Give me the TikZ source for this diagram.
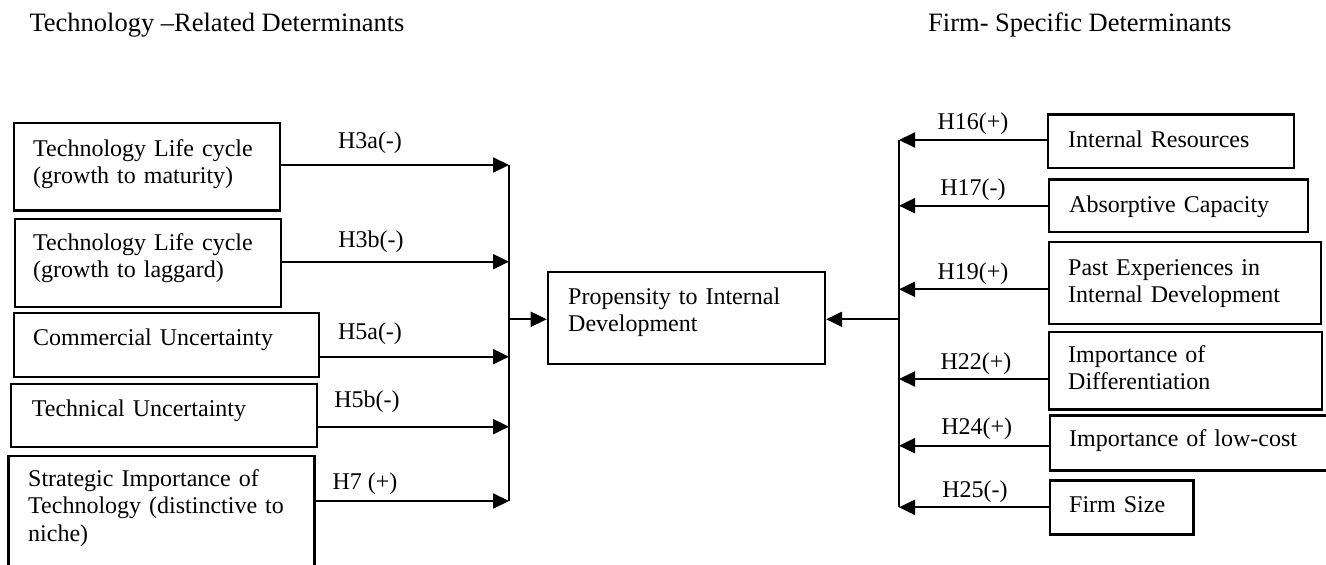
\documentclass[tikz,border=0pt]{standalone}
\usepackage{fontspec}
\setmainfont{Liberation Serif}
\usetikzlibrary{arrows.meta}
\begin{document}
\begin{tikzpicture}[x=1pt,y=-1pt,
  boxnode/.style={draw, line width=2.2pt, inner sep=0pt, anchor=north west},
  txt/.style={anchor=base west, inner sep=0pt, align=left, text width=#1,
    font=\fontsize{24}{27.5}\selectfont},
  lbl/.style={anchor=base, inner sep=0pt, font=\fontsize{24}{27.5}\selectfont},
  ttl/.style={anchor=base west, inner sep=0pt, font=\fontsize{26.5}{30}\selectfont},
  conn/.style={line width=2pt},
  arr/.style={line width=2pt, -{Triangle[length=16pt,width=15pt]}}
]
\useasboundingbox (0,0) rectangle (1326,565);

% titles
\node[ttl] (tl) at (29.3,31.7) {Technology –Related Determinants};
\node[ttl] (tr) at (928,31.7) {Firm- Specific Determinants};

% left boxes
\node[boxnode, minimum width=266.3pt, minimum height=87.6pt] (b1) at (12.7,121.7) {};
\node[boxnode, minimum width=266pt, minimum height=88pt] (b2) at (14,217.7) {};
\node[boxnode, minimum width=305.3pt, minimum height=63.7pt] (b3) at (12.7,312) {};
\node[boxnode, minimum width=305.7pt, minimum height=63pt] (b4) at (10,382.7) {};
\node[boxnode, minimum width=306pt, minimum height=130pt] (b5) at (7.3,455) {};

\node[txt=240pt] (t1) at (33,156) {Technology Life cycle\\(growth to maturity)};
\node[txt=240pt] (t2) at (33,250) {Technology Life cycle\\(growth to laggard)};
\node[txt=280pt] (t3) at (33,345) {Commercial Uncertainty};
\node[txt=280pt] (t4) at (31.7,416) {Technical Uncertainty};
\node[txt=282pt] (t5) at (28,486) {Strategic Importance of\\Technology (distinctive to\\niche)};

% centre box
\node[boxnode, minimum width=277.3pt, minimum height=91.7pt] (c) at (546.7,271) {};
\node[txt=250pt] (tc) at (568,304) {Propensity to Internal\\Development};

% right boxes
\node[boxnode, minimum width=246pt, minimum height=53.4pt] (r1) at (1047,113.3) {};
\node[boxnode, minimum width=258.7pt, minimum height=52.7pt] (r2) at (1048,178.3) {};
\node[boxnode, minimum width=272pt, minimum height=82pt] (r3) at (1048,240.7) {};
\node[boxnode, minimum width=273pt, minimum height=77.6pt] (r4) at (1048,330.7) {};
\node[boxnode, minimum width=290pt, minimum height=55pt] (r5) at (1049,414.3) {};
\node[boxnode, minimum width=143.3pt, minimum height=54pt] (r6) at (1049,479.3) {};

\node[txt=240pt] (s1) at (1068,147) {Internal Resources};
\node[txt=240pt] (s2) at (1069,212) {Absorptive Capacity};
\node[txt=250pt] (s3) at (1068,275.3) {Past Experiences in\\Internal Development};
\node[txt=250pt] (s4) at (1068,362) {Importance of\\Differentiation};
\node[txt=250pt] (s5) at (1069,446) {Importance of low-cost};
\node[txt=120pt] (s6) at (1069,512) {Firm Size};

% junction coordinates, left bus
\coordinate (jl1) at (509,165);
\coordinate (jl2) at (509,261.7);
\coordinate (jl3) at (509,356.7);
\coordinate (jl4) at (509,426.7);
\coordinate (jl5) at (509,501);
\coordinate (jlm) at (509,319.3);

\draw[conn] (jl1) -- (jl5);
\draw[arr] (b1.east |- jl1) -- (jl1);
\draw[arr] (b2.east |- jl2) -- (jl2);
\draw[arr] (b3.east |- jl3) -- (jl3);
\draw[arr] (b4.east |- jl4) -- (jl4);
\draw[arr] (b5.east |- jl5) -- (jl5);
\draw[arr] (jlm) -- (c.west |- jlm);

% junction coordinates, right bus
\coordinate (jr1) at (899,140);
\coordinate (jr2) at (899,205.7);
\coordinate (jr3) at (899,289.3);
\coordinate (jr4) at (899,379);
\coordinate (jr5) at (899,445.7);
\coordinate (jr6) at (899,507.3);
\coordinate (jrm) at (899,319.3);

\draw[conn] (jr1) -- (jr6);
\draw[arr] (r1.west |- jr1) -- (jr1);
\draw[arr] (r2.west |- jr2) -- (jr2);
\draw[arr] (r3.west |- jr3) -- (jr3);
\draw[arr] (r4.west |- jr4) -- (jr4);
\draw[arr] (r5.west |- jr5) -- (jr5);
\draw[arr] (r6.west |- jr6) -- (jr6);
\draw[arr] (jrm) -- (c.east |- jrm);

% labels
\node[lbl] (h3a) at (370,148.5) {H3a(-)};
\node[lbl] (h3b) at (371,247.5) {H3b(-)};
\node[lbl] (h5a) at (370,339) {H5a(-)};
\node[lbl] (h5b) at (367,407.5) {H5b(-)};
\node[lbl] (h7) at (365,489) {H7 (+)};

\node[lbl] (h16) at (973,129) {H16(+)};
\node[lbl] (h17) at (973,195.5) {H17(-)};
\node[lbl] (h19) at (973,279) {H19(+)};
\node[lbl] (h22) at (976,369) {H22(+)};
\node[lbl] (h24) at (976.7,434.5) {H24(+)};
\node[lbl] (h25) at (975,497.5) {H25(-)};
\end{tikzpicture}
\end{document}
